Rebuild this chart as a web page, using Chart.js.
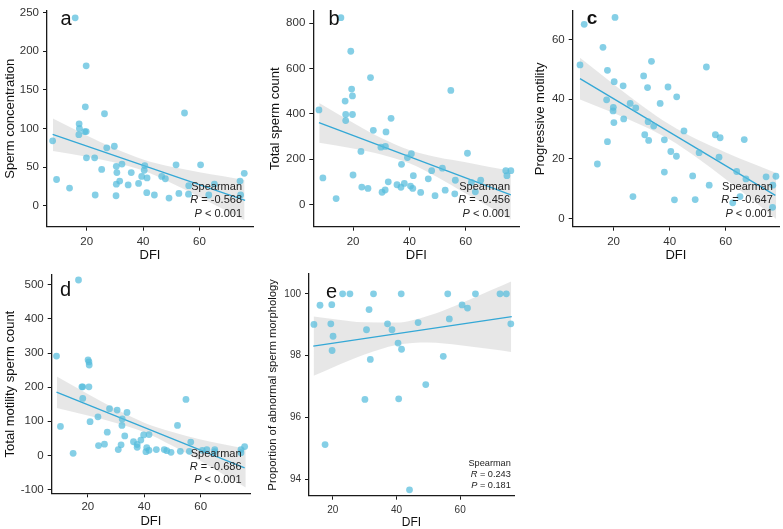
<!DOCTYPE html>
<html>
<head>
<meta charset="utf-8">
<script src="https://cdn.jsdelivr.net/npm/chart.js@4.4.0/dist/chart.umd.min.js"></script>
<style>
  html, body { margin: 0; padding: 0; background: #fff; }
  #wrap { position: relative; width: 783px; height: 529px; overflow: hidden; }
  #wrap canvas { position: absolute; }
</style>
</head>
<body>
<div id="wrap">
  <canvas id="pa" width="262" height="264" style="left:0;top:0"></canvas>
  <canvas id="pb" width="262" height="264" style="left:262px;top:0"></canvas>
  <canvas id="pc" width="261" height="264" style="left:522px;top:0"></canvas>
  <canvas id="pd" width="262" height="265" style="left:0;top:264px"></canvas>
  <canvas id="pe" width="262" height="266" style="left:262px;top:264px"></canvas>
</div>
<script>
// a: sperm concentration vs DFI
const dfiA = [15.9, 19.8, 19.5, 26.3, 54.7, 17.3, 17.4, 19.3, 19.8, 17.2,
  7.9, 27.1, 29.8, 19.9, 22.8, 25.3, 30.5, 32.5, 30.7, 35.8,
  40.6, 40.4, 39.5, 41.4, 38.4, 30.5, 31.7, 34.7, 9.3, 13.9,
  23.0, 30.4, 41.3, 44.0, 46.6, 47.9, 49.2, 51.7, 52.7, 56.2,
  56.1, 60.4, 65.3, 63.3, 74.4, 75.9, 74.6];
const concA = [243, 181, 128, 119, 120, 106, 100, 96, 96, 92,
  84, 75, 77, 62, 62, 47, 51, 54, 43, 43,
  52, 46, 38, 36, 29, 28, 32, 27, 34, 23,
  14, 13, 17, 14, 38, 35, 10, 53, 16, 26,
  15, 53, 28, 14, 32, 42, 14];

// b: total sperm count
const dfiB = [15.7, 19.2, 19.5, 19.8, 26.2, 54.7, 17.2, 17.4, 19.8, 17.4,
  7.9, 33.5, 27.2, 31.7, 29.9, 31.5, 22.8, 40.7, 39.3, 37.2,
  60.6, 51.7, 47.9, 41.4, 46.7, 9.3, 20.0, 32.5, 35.6, 38.2,
  40.4, 37.0, 41.2, 23.1, 25.3, 30.3, 31.4, 44.0, 49.1, 52.7,
  56.3, 56.1, 62.0, 63.4, 65.3, 74.2, 76.0, 74.6, 14.0];
const countB = [824, 676, 509, 479, 560, 503, 456, 397, 397, 370,
  417, 380, 327, 320, 253, 256, 234, 224, 207, 177,
  226, 160, 149, 127, 113, 117, 130, 100, 87, 93,
  81, 76, 71, 77, 71, 54, 64, 53, 39, 63,
  107, 47, 97, 56, 107, 149, 149, 127, 26];

// c: progressive motility
const dfiC = [20.5, 9.5, 16.2, 8.0, 33.5, 53.1, 17.8, 30.7, 20.2, 23.4,
  32.1, 39.4, 42.5, 17.5, 25.9, 36.6, 19.9, 19.8, 27.9, 23.6,
  20.1, 32.3, 34.3, 45.1, 31.1, 32.5, 38.1, 17.8, 56.3, 58.0,
  66.6, 40.4, 42.4, 50.5, 57.6, 14.2, 38.1, 48.2, 63.9, 67.2,
  74.4, 77.9, 54.1, 76.8, 26.9, 41.7, 49.1, 62.5, 65.1, 76.7];
const motC = [67.4, 65.1, 57.4, 51.5, 52.7, 50.8, 49.7, 47.8, 45.9, 44.5,
  43.9, 44.1, 40.8, 39.8, 38.6, 38.6, 37.3, 36.1, 37.1, 33.4,
  32.2, 32.5, 31.0, 29.4, 28.1, 26.2, 26.4, 25.8, 28.1, 27.1,
  26.5, 22.5, 20.9, 22.1, 20.6, 18.3, 15.6, 14.3, 15.8, 13.3,
  14.0, 14.2, 11.2, 11.2, 7.4, 6.3, 6.4, 5.3, 7.4, 3.8];

// d: total motility sperm count
const dfiD = [16.7, 8.9, 20.1, 20.4, 20.5, 17.9, 18.2, 20.4, 18.2, 54.8,
  27.7, 30.4, 33.9, 23.6, 32.2, 20.8, 51.8, 32.1, 10.3, 26.9,
  33.1, 41.7, 39.8, 38.8, 36.2, 37.5, 56.5, 25.9, 23.8, 31.8,
  37.5, 30.8, 40.9, 41.7, 40.6, 44.3, 47.1, 48.0, 49.5, 52.8,
  56.0, 60.6, 62.2, 65.0, 65.0, 74.3, 75.6, 74.3, 14.8];
const tmscD = [514, 291, 280, 274, 265, 201, 201, 201, 167, 164,
  137, 133, 126, 113, 107, 99, 88, 88, 85, 68,
  57, 61, 60, 45, 40, 32, 39, 33, 29, 31,
  24, 17, 23, 15, 11, 17, 17, 14, 9, 12,
  12, 15, 17, 17, 11, 17, 26, 8, 6];

// e: abnormal morphology
const dfiE = [23.1, 25.4, 32.8, 41.5, 56.1, 64.8, 72.5, 74.5, 16.0, 19.7,
  60.6, 62.3, 31.4, 56.6, 14.1, 19.4, 37.2, 46.8, 75.9, 30.6,
  38.6, 20.1, 40.5, 41.6, 19.8, 31.8, 54.7, 49.2, 30.1, 40.7,
  17.6, 44.1];
const morphE = [100, 100, 100, 100, 100, 100, 100, 100, 99.63, 99.65,
  99.64, 99.54, 99.49, 99.19, 99.01, 99.03, 99.03, 99.07, 99.03, 98.84,
  98.84, 98.63, 98.41, 98.21, 98.17, 97.88, 97.98, 97.07, 96.59, 96.61,
  95.13, 93.67];

// fitted lines (ends) and grey bands
const fitXA = [7.9, 76.2], fitYA = [92.5, 7.1];
const bandXA = [8, 20, 30, 40, 50, 60, 68, 76];
const bandHiA = [113, 91, 74, 60, 50.5, 43.5, 38.5, 33.5];
const bandLoA = [71, 63.5, 56, 45.5, 29.5, 11.5, -3.5, -18.5];

const fitXB = [7.9, 76], fitYB = [361, 42];
const bandXB = [8, 20, 30, 40, 50, 60, 68, 76];
const bandHiB = [448, 361, 293, 240, 208, 186, 167, 150];
const bandLoB = [272, 247, 221, 182, 120, 48, -8, -66];

const fitXC = [8, 77.7], fitYC = [46.9, 7.8];
const bandXC = [8, 20, 30, 40, 50, 60, 70, 78];
const bandHiC = [53.9, 45, 37.9, 31.5, 26.4, 22.2, 18.3, 15.3];
const bandLoC = [39.9, 35.4, 31.3, 26.5, 20.2, 13.2, 5.9, -0.1];

const fitXD = [8.9, 75.6], fitYD = [185.5, -36.7];
const bandXD = [9, 20, 30, 40, 50, 60, 68, 76];
const bandHiD = [231, 180, 135, 96, 68.5, 47, 33, 20];
const bandLoD = [139, 117, 95, 68, 28.5, -16.5, -55, -94];

const fitXE = [13.9, 76.2], fitYE = [98.31, 99.26];
const bandXE = [14, 20, 30, 40, 50, 60, 70, 76];
const bandHiE = [99.27, 99.19, 99.08, 99.07, 99.29, 99.68, 100.13, 100.4];
const bandLoE = [97.35, 97.62, 98.04, 98.35, 98.43, 98.34, 98.21, 98.12];

const spearmanR = ['-0.568', '-0.456', '-0.647', '-0.686', '0.243'];
const spearmanP = ['< 0.001', '< 0.001', '< 0.001', '< 0.001', '= 0.181'];

const xTicks = [20, 40, 60];
const yTicksA = [0, 50, 100, 150, 200, 250];
const yTicksB = [0, 200, 400, 600, 800];
const yTicksC = [0, 20, 40, 60];
const yTicksD = [-100, 0, 100, 200, 300, 400, 500];
const yTicksE = [94, 96, 98, 100];

const FONT = "'Liberation Sans', Arial, Helvetica, sans-serif";
const pointColor = 'rgba(86, 188, 220, 0.72)';
const fitColor = 'rgb(52, 168, 214)';
const bandColor = 'rgba(170, 170, 170, 0.28)';
const axisColor = '#1a1a1a';
const tickColor = '#333';

Chart.defaults.font.family = FONT;

// letter + Spearman block
const panelText = {
    id: 'panelText',
    afterDatasetsDraw(chart, args, opts) {
        const { ctx, chartArea, scales } = chart;
        ctx.save();
        ctx.fillStyle = '#111';
        ctx.textBaseline = 'alphabetic';
        ctx.textAlign = 'left';
        ctx.font = opts.letterFont;
        ctx.fillText(opts.letter, chartArea.left + opts.letterDx, chartArea.top + opts.letterDy);

        const xr = scales.x.getPixelForValue(opts.statX);
        const size = opts.statSize;
        const lines = [['', 'Spearman'], ['R', ' = ' + opts.r], ['P', ' ' + opts.p]];
        ctx.fillStyle = '#222';
        lines.forEach((ln, i) => {
            const y = chartArea.bottom + opts.statDy[i];
            ctx.font = `${size}px ${FONT}`;
            const w2 = ctx.measureText(ln[1]).width;
            ctx.font = `italic ${size}px ${FONT}`;
            const w1 = ln[0] ? ctx.measureText(ln[0]).width : 0;
            if (ln[0]) ctx.fillText(ln[0], xr - w2 - w1, y);
            ctx.font = `${size}px ${FONT}`;
            ctx.fillText(ln[1], xr - w2, y);
        });
        ctx.restore();
    }
};

function xy(xs, ys) {
    return xs.map((x, i) => ({ x: x, y: ys[i] }));
}

function makePanel(id, p) {
    new Chart(document.getElementById(id), {
        type: 'line',
        data: {
            datasets: [
                { data: xy(p.x, p.y), showLine: false, pointRadius: 3.4, pointBackgroundColor: pointColor, pointBorderWidth: 0, pointBorderColor: 'rgba(0,0,0,0)', clip: false },
                { data: xy(p.fitX, p.fitY), borderColor: fitColor, borderWidth: 1.3, pointRadius: 0, fill: false },
                { data: xy(p.bandX, p.bandHi), borderColor: 'rgba(0,0,0,0)', borderWidth: 0, pointRadius: 0, fill: '+1', backgroundColor: bandColor, cubicInterpolationMode: 'monotone' },
                { data: xy(p.bandX, p.bandLo), borderColor: 'rgba(0,0,0,0)', borderWidth: 0, pointRadius: 0, fill: false, cubicInterpolationMode: 'monotone' }
            ]
        },
        options: {
            responsive: false,
            animation: false,
            events: [],
            layout: { padding: { top: p.padTop, right: p.padRight, left: 0, bottom: 0 } },
            plugins: {
                legend: { display: false },
                tooltip: { enabled: false },
                panelText: p.text
            },
            scales: {
                x: {
                    type: 'linear', min: p.xMin, max: p.xMax,
                    afterBuildTicks: s => { s.ticks = xTicks.map(v => ({ value: v })); },
                    afterFit: s => { s.height = p.xAxisH; },
                    grid: { drawOnChartArea: false, tickLength: 4, color: axisColor, lineWidth: 1 },
                    border: { color: axisColor, width: 1.3 },
                    ticks: { color: tickColor, font: { size: p.tickSize }, padding: p.xTickPad, maxRotation: 0 },
                    title: { display: true, text: 'DFI', color: '#111', font: { size: p.xTitleSize }, padding: { top: 0, bottom: p.xTitlePad } }
                },
                y: {
                    type: 'linear', min: p.yMin, max: p.yMax,
                    afterBuildTicks: s => { s.ticks = p.yTicks.map(v => ({ value: v })); },
                    afterFit: s => { s.width = p.yAxisW; },
                    grid: { drawOnChartArea: false, tickLength: 4, color: axisColor, lineWidth: 1 },
                    border: { color: axisColor, width: 1.3 },
                    ticks: { color: tickColor, font: { size: p.tickSize }, padding: 4 },
                    title: { display: true, text: p.yTitle, color: '#111', font: { size: p.yTitleSize }, padding: { top: p.yTitlePad, bottom: 0 } }
                }
            }
        },
        plugins: [panelText]
    });
}

const bigStat = [-36.5, -23.3, -10.2];

makePanel('pa', {
    x: dfiA, y: concA, fitX: fitXA, fitY: fitYA, bandX: bandXA, bandHi: bandHiA, bandLo: bandLoA,
    xMin: 5.9, xMax: 79, yMin: -27, yMax: 252, yTicks: yTicksA,
    padTop: 4, padRight: 9, yAxisW: 47, xAxisH: 37.3,
    tickSize: 11.5, xTickPad: 4, xTitleSize: 13, xTitlePad: 1.2,
    yTitle: 'Sperm concentration', yTitleSize: 13, yTitlePad: 2.2,
    text: { letter: 'a', letterFont: `20px ${FONT}`, letterDx: 13.5, letterDy: 14.5,
        statX: 75.1, statDy: bigStat, statSize: 11, r: spearmanR[0], p: spearmanP[0] }
});

makePanel('pb', {
    x: dfiB, y: countB, fitX: fitXB, fitY: fitYB, bandX: bandXB, bandHi: bandHiB, bandLo: bandLoB,
    xMin: 5.9, xMax: 79, yMin: -98, yMax: 854, yTicks: yTicksB,
    padTop: 4, padRight: 4.7, yAxisW: 51.3, xAxisH: 37.3,
    tickSize: 11.5, xTickPad: 4, xTitleSize: 13, xTitlePad: 1.2,
    yTitle: 'Total sperm count', yTitleSize: 13, yTitlePad: 5.2,
    text: { letter: 'b', letterFont: `20px ${FONT}`, letterDx: 15.2, letterDy: 14.3,
        statX: 75.7, statDy: bigStat, statSize: 11, r: spearmanR[1], p: spearmanP[1] }
});

makePanel('pc', {
    x: dfiC, y: motC, fitX: fitXC, fitY: fitYC, bandX: bandXC, bandHi: bandHiC, bandLo: bandLoC,
    xMin: 5.4, xMax: 79, yMin: -2.7, yMax: 69.6, yTicks: yTicksC,
    padTop: 4, padRight: 2, yAxisW: 50.7, xAxisH: 37.3,
    tickSize: 11.5, xTickPad: 4, xTitleSize: 13, xTitlePad: 1.2,
    yTitle: 'Progressive motility', yTitleSize: 13, yTitlePad: 10.2,
    text: { letter: 'c', letterFont: `bold 19px ${FONT}`, letterDx: 14, letterDy: 13.3,
        statX: 76.8, statDy: bigStat, statSize: 11, r: spearmanR[2], p: spearmanP[2] }
});

makePanel('pd', {
    x: dfiD, y: tmscD, fitX: fitXD, fitY: fitYD, bandX: bandXD, bandHi: bandHiD, bandLo: bandLoD,
    xMin: 7.2, xMax: 77.5, yMin: -111, yMax: 529, yTicks: yTicksD,
    padTop: 8.7, padRight: 12, yAxisW: 51.7, xAxisH: 35.7,
    tickSize: 11.5, xTickPad: 3, xTitleSize: 13, xTitlePad: 0,
    yTitle: 'Total motility sperm count', yTitleSize: 13, yTitlePad: 2.2,
    text: { letter: 'd', letterFont: `20px ${FONT}`, letterDx: 8.3, letterDy: 20.6,
        statX: 74.5, statDy: bigStat, statSize: 11, r: spearmanR[3], p: spearmanP[3] }
});

makePanel('pe', {
    x: dfiE, y: morphE, fitX: fitXE, fitY: fitYE, bandX: bandXE, bandHi: bandHiE, bandLo: bandLoE,
    xMin: 12.55, xMax: 76.9, yMin: 93.48, yMax: 100.64, yTicks: yTicksE,
    padTop: 7.7, padRight: 10, yAxisW: 47, xAxisH: 34.3,
    tickSize: 10, xTickPad: 5, xTitleSize: 12, xTitlePad: 0,
    yTitle: 'Proportion of abnormal sperm morphology', yTitleSize: 11.3, yTitlePad: 3.9,
    text: { letter: 'e', letterFont: `20px ${FONT}`, letterDx: 17, letterDy: 24.3,
        statX: 75.9, statDy: [-29.7, -18.6, -7.6], statSize: 9.2, r: spearmanR[4], p: spearmanP[4] }
});
</script>
</body>
</html>
